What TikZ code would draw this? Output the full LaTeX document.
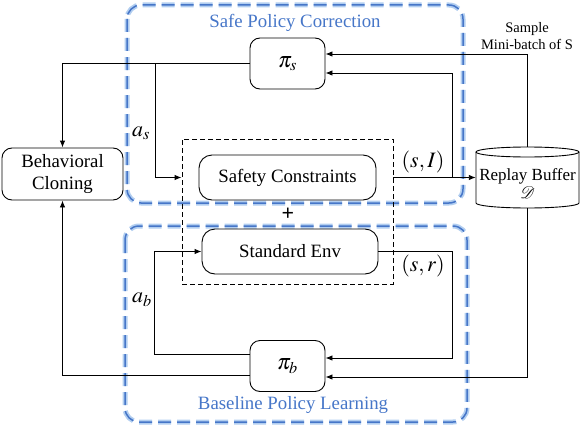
\documentclass[tikz,border=0pt]{standalone}
\usepackage{mathptmx}
\usepackage{fontspec}
\setmainfont{Liberation Serif}
\usetikzlibrary{arrows.meta,calc}
\definecolor{pblue}{RGB}{70,118,200}
\definecolor{pglow}{RGB}{178,206,240}
\begin{document}
\begin{tikzpicture}[x=1pt,y=-1pt,
  box/.style={draw,line width=0.9pt,rounded corners=10pt,font=\fontsize{18.8}{22.6}\selectfont,align=center,inner sep=0pt},
  pibox/.style={box,minimum width=75pt,minimum height=51pt,font=\fontsize{22}{24}\selectfont},
  ln/.style={line width=0.9pt},
  arr/.style={line width=0.9pt,-{Latex[length=7pt,width=5.5pt]}},
  glow/.style={pglow,line width=5pt,rounded corners=14pt,dash pattern=on 13pt off 6pt},
  regline/.style={pblue,line width=1.5pt,rounded corners=14pt,dash pattern=on 13pt off 6pt},
  title/.style={font=\fontsize{18.8}{22.6}\selectfont,text=pblue},
  lab/.style={font=\fontsize{22}{24}\selectfont,inner sep=0pt}
]
\useasboundingbox (0,0) rectangle (580,428);

% region frames
\draw[glow] (127,5) rectangle (463,203);
\draw[regline] (127,5) rectangle (463,203);
\draw[glow] (125,226) rectangle (467,422);
\draw[regline] (125,226) rectangle (467,422);
\node[title] (t1) at (295,23) {Safe Policy Correction};
\node[title] (t2) at (293,405) {Baseline Policy Learning};

% dashed env box
\node[draw,line width=0.9pt,dash pattern=on 5pt off 3pt,minimum width=211pt,minimum height=145pt,inner sep=0pt] (db) at (287.5,211.5) {};
\node[font=\bfseries\fontsize{22}{22}\selectfont,inner sep=0pt] (plus) at (288,214) {+};

% nodes
\node[pibox] (pis) at (287.5,63.5) {$\pi_s$};
\node[pibox] (pib) at (287.5,366) {$\pi_b$};
\node[box,rounded corners=13pt,minimum width=177pt,minimum height=45pt] (sc) at (287.5,177.5) {Safety Constraints};
\node[box,rounded corners=13pt,minimum width=176pt,minimum height=45pt] (se) at (290,251.5) {Standard Env};
\node[box,minimum width=121pt,minimum height=52pt] (bc) at (62.5,174) {Behavioral\\Cloning};

% replay buffer cylinder
\node[minimum width=103pt,minimum height=61pt,inner sep=0pt] (rb) at (527.5,177.5) {};
\draw[ln,fill=white] (476,152) -- (476,203) arc[start angle=180,end angle=360,x radius=51.5pt,y radius=5pt] -- (579,152);
\draw[ln] (527.5,152) ellipse [x radius=51.5pt,y radius=5pt];
\node[font=\fontsize{17}{17}\selectfont,align=center,inner sep=0pt] (rbt) at (527.5,184) {Replay Buffer\\[1pt]$\mathcal{D}$};
\node[font=\fontsize{14.5}{17.6}\selectfont,align=center,inner sep=0pt] (smp) at (527,36) {Sample\\Mini-batch of S};

% coordinates
\coordinate (j1) at (155,63.5);
\coordinate (j3) at (452,177.5);
\coordinate (pisu) at ($(pis.east)+(0,-9.5)$);
\coordinate (pisd) at ($(pis.east)+(0,9.5)$);
\coordinate (pibu) at ($(pib.east)+(0,-8)$);
\coordinate (pibd) at ($(pib.east)+(0,11)$);
\coordinate (pibwu) at ($(pib.west)+(0,-12)$);
\coordinate (pibwd) at ($(pib.west)+(0,9)$);

% connectors
\draw[arr] (pis.west) -| (bc.north);
\draw[arr] (j1) |- (db.west |- sc.center);
\draw[arr] (pibwd) -| (bc.south);
\draw[arr] (pibwu) -| ($(se.west)+(-47,0)$) -- (se.west);
\draw[arr] (db.east |- sc.center) -- (rb.west);
\draw[arr] (j3) |- (pisd);
\draw[arr] (rb.north) |- (pisu);
\draw[arr] (se.east) -| (j3 |- pibu) -- (pibu);
\draw[arr] (rb.south) |- (pibd);

% labels
\node[lab] (las) at (141,133) {$a_s$};
\node[lab] (lab) at (142,300) {$a_b$};
\node[lab] (lsi) at (423,162) {$(s,I)$};
\node[lab] (lsr) at (423,266) {$(s,r)$};
\end{tikzpicture}
\end{document}
